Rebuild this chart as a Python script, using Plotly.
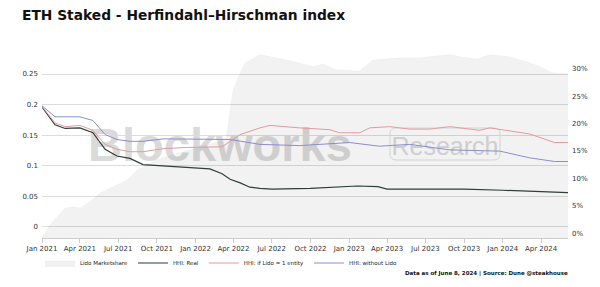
import plotly.graph_objects as go

# ---- data ----
share_dates = ["2021-01-01", "2021-01-20", "2021-02-25", "2021-03-16", "2021-04-01", "2021-04-25",
               "2021-05-19", "2021-06-19", "2021-07-22", "2021-08-15", "2021-09-08", "2021-10-01",
               "2021-11-08", "2021-12-19", "2022-01-28", "2022-03-14", "2022-03-31", "2022-04-17",
               "2022-04-29", "2022-06-03", "2022-08-06", "2022-10-07", "2022-10-31", "2022-12-03",
               "2023-01-26", "2023-02-26", "2023-05-01", "2023-06-17", "2023-08-28", "2023-09-21",
               "2023-11-02", "2023-12-01", "2024-01-17", "2024-02-27", "2024-03-29", "2024-04-26",
               "2024-06-04"]
lido_share = [0.0, 2.4, 5.5, 5.7, 5.5, 6.6,
              8.2, 9.3, 10.6, 12.4, 13.3, 14.3,
              15.2, 16.1, 17.0, 18.0, 27.0, 30.2,
              32.0, 33.5, 32.5, 31.3, 31.8, 30.7,
              30.5, 32.5, 32.9, 32.9, 33.5, 33.1,
              32.7, 33.5, 33.1, 32.2, 31.3, 30.2,
              30.0]

real_dates = ["2021-01-01", "2021-02-01", "2021-02-25", "2021-04-01", "2021-05-02", "2021-05-31",
              "2021-06-28", "2021-07-29", "2021-08-29", "2021-10-16", "2021-12-12", "2022-02-04",
              "2022-03-05", "2022-03-24", "2022-04-17", "2022-05-10", "2022-06-03", "2022-07-01",
              "2022-10-01", "2023-01-01", "2023-01-20", "2023-03-10", "2023-04-01", "2023-07-01",
              "2023-10-01", "2024-01-01", "2024-04-01", "2024-06-04"]
hhi_real = [0.196, 0.167, 0.161, 0.162, 0.154, 0.127,
            0.116, 0.112, 0.102, 0.100, 0.098, 0.095,
            0.087, 0.078, 0.072, 0.065, 0.063, 0.062,
            0.063, 0.066, 0.067, 0.066, 0.062, 0.062,
            0.062, 0.060, 0.057, 0.056]

lido1_dates = ["2021-01-01", "2021-02-01", "2021-02-25", "2021-04-01", "2021-05-02", "2021-05-31",
               "2021-06-28", "2021-07-29", "2021-08-29", "2021-10-16", "2021-12-12", "2022-02-04",
               "2022-03-05", "2022-03-24", "2022-04-17", "2022-06-03", "2022-06-27", "2022-09-05",
               "2022-11-16", "2022-12-09", "2023-01-26", "2023-02-19", "2023-04-07", "2023-05-25",
               "2023-07-11", "2023-08-28", "2023-11-07", "2023-12-01", "2024-01-29", "2024-03-05",
               "2024-05-03", "2024-06-04"]
hhi_lido1 = [0.197, 0.170, 0.164, 0.166, 0.158, 0.135,
             0.127, 0.123, 0.123, 0.128, 0.130, 0.130,
             0.131, 0.140, 0.151, 0.162, 0.166, 0.162,
             0.159, 0.154, 0.154, 0.162, 0.164, 0.160,
             0.160, 0.164, 0.158, 0.162, 0.156, 0.152,
             0.138, 0.138]

nolido_dates = ["2021-01-01", "2021-02-01", "2021-04-01", "2021-05-02", "2021-05-31", "2021-06-28",
                "2021-07-29", "2021-08-29", "2021-10-16", "2021-12-12", "2022-02-04", "2022-03-24",
                "2022-06-03", "2022-09-05", "2023-01-02", "2023-03-14", "2023-05-25", "2023-08-28",
                "2023-12-25", "2024-03-05", "2024-05-03", "2024-06-04"]
hhi_nolido = [0.198, 0.180, 0.180, 0.174, 0.151, 0.143,
              0.140, 0.140, 0.144, 0.144, 0.143, 0.143,
              0.135, 0.133, 0.138, 0.132, 0.135, 0.126,
              0.124, 0.113, 0.107, 0.107]

left_ticks = [0, 0.05, 0.1, 0.15, 0.2, 0.25]
left_labels = ["0", "0.05", "0.1", "0.15", "0.2", "0.25"]
right_ticks = [0, 5, 10, 15, 20, 25, 30]
right_labels = ["0%", "5%", "10%", "15%", "20%", "25%", "30%"]

FONT = "DejaVu Sans"

# plot area geometry (pixels) used for placing decorations in paper coords
PL, PR, PT, PB = 42, 568, 48, 238
PW, PH = PR - PL, PB - PT


def px(x):
    return (x - PL) / PW


def py(y):
    return (PB - y) / PH


def rounded_rect(x0, y0, x1, y1, r):
    X0, X1, Y0, Y1 = px(x0), px(x1), py(y1), py(y0)
    rx, ry = r / PW, r / PH
    return (f"M{X0+rx},{Y0} L{X1-rx},{Y0} Q{X1},{Y0} {X1},{Y0+ry} "
            f"L{X1},{Y1-ry} Q{X1},{Y1} {X1-rx},{Y1} L{X0+rx},{Y1} "
            f"Q{X0},{Y1} {X0},{Y1-ry} L{X0},{Y0+ry} Q{X0},{Y0} {X0+rx},{Y0} Z")


fig = go.Figure()
fig.add_trace(go.Scatter(
    x=share_dates, y=lido_share, name="Lido Marketshare", yaxis="y",
    mode="lines", fill="tozeroy", fillcolor="rgba(0,0,0,0.05)",
    line=dict(color="rgba(0,0,0,0.05)", width=0.5),
))
fig.add_trace(go.Scatter(
    x=real_dates, y=hhi_real, name="HHI: Real", yaxis="y2",
    mode="lines", line=dict(color="#2f3d3d", width=1.2),
))
fig.add_trace(go.Scatter(
    x=lido1_dates, y=hhi_lido1, name="HHI: if Lido = 1 entity", yaxis="y2",
    mode="lines", line=dict(color="#e29aa2", width=1),
))
fig.add_trace(go.Scatter(
    x=nolido_dates, y=hhi_nolido, name="HHI: without Lido", yaxis="y2",
    mode="lines", line=dict(color="#8c8cd0", width=1),
))

fig.update_layout(
    width=600, height=287,
    margin=dict(l=PL, r=600 - PR, t=PT, b=287 - PB, autoexpand=False),
    paper_bgcolor="white", plot_bgcolor="white",
    font=dict(family=FONT, size=7, color="#333"),
    title=dict(text="<b>ETH Staked - Herfindahl–Hirschman index</b>",
               x=22 / 600, xanchor="left", xref="container",
               y=1 - 15.5 / 287, yanchor="middle", yref="container",
               font=dict(family=FONT, size=13.8, color="#111")),
    xaxis=dict(type="date", range=["2021-01-01", "2024-06-04"],
               tick0="2021-01-01", dtick="M3", tickformat="%b %Y",
               showgrid=False, showline=True, linecolor="#ccc", linewidth=1,
               ticks="outside", ticklen=4, tickcolor="#ccc",
               tickfont=dict(size=7, color="#333")),
    yaxis=dict(side="right", range=[0, 34.7], tickvals=right_ticks,
               ticktext=right_labels, showgrid=False, zeroline=False,
               ticklabelposition="outside top", ticklabelstandoff=3,
               tickfont=dict(size=7, color="#333")),
    yaxis2=dict(side="left", overlaying="y", range=[-0.018, 0.2925],
                tickvals=left_ticks, ticktext=left_labels,
                showgrid=True, gridcolor="#dcdcdc", gridwidth=1, zeroline=False,
                tickfont=dict(size=7, color="#333"), ticklabelstandoff=3),
    showlegend=True,
    legend=dict(orientation="h", x=px(40), xanchor="left",
                y=py(263), yanchor="middle",
                font=dict(size=5.5, color="#222"), bgcolor="rgba(0,0,0,0)",
                itemwidth=30),
    shapes=[
        dict(type="rect", xref="paper", yref="paper", layer="between",
             x0=px(100), x1=px(340), y0=py(162), y1=py(118),
             line=dict(width=0), fillcolor="rgba(0,0,0,0)",
             label=dict(text="<b>Blockworks</b>",
                        font=dict(family="Liberation Sans", size=47, color="#dadada"),
                        textposition="middle center")),
        dict(type="path", xref="paper", yref="paper", layer="between",
             path=rounded_rect(390, 128, 500, 160, 6),
             line=dict(width=1, color="#e0e0e0"), fillcolor="rgba(0,0,0,0)",
             label=dict(text="Research",
                        font=dict(family="Liberation Sans", size=25, color="#dadada"),
                        textposition="middle center")),
    ],
    annotations=[
        dict(text="<b>Data as of June 8, 2024 | Source: Dune @steakhouse</b>",
             xref="paper", yref="paper", x=px(570), xanchor="right",
             y=py(273), yanchor="middle", showarrow=False,
             font=dict(family=FONT, size=5.5, color="#111")),
    ],
)

fig.write_html("out.html")
